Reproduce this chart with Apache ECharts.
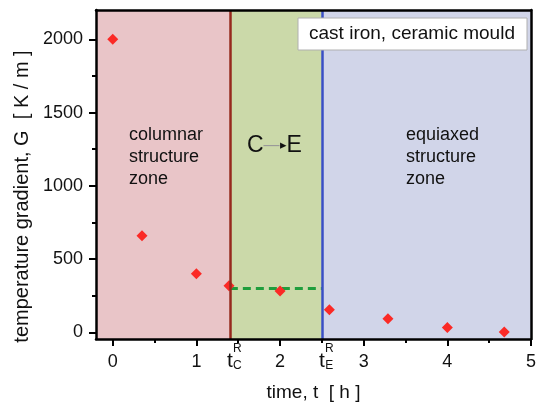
<!DOCTYPE html>
<html>
<head>
<meta charset="utf-8">
<script src="https://cdn.jsdelivr.net/npm/echarts@6/dist/echarts.min.js"></script>
<style>
  html, body { margin: 0; padding: 0; background: #fff; }
  #chart { width: 539px; height: 402px; }
</style>
</head>
<body>
<div id="chart"></div>
<script>
// measured points
const timeH = [0, 0.35, 1.0, 1.39, 2.0, 2.59, 3.29, 4.0, 4.68];
const gradient = [2000, 660, 400, 318, 282, 155, 93, 34, 3];

// transition times (t_C^R, t_E^R) and plateau level
const tCR = 1.4;
const tER = 2.5;
const plateau = 300;

const xMajor = [0, 1, 2, 3, 4, 5];
const xMinor = [0.5, 1.5, 2.5, 3.5, 4.5];
const yMajor = [0, 500, 1000, 1500, 2000];
const yMinor = [250, 750, 1250, 1750];

const zoneColors = ["#e9c5c8", "#cbd9a9", "#d1d5e9"];

const font = "Liberation Sans, Arial, sans-serif";
const chart = echarts.init(document.getElementById("chart"));

const hiddenAxis = {
  axisLine: { show: false, onZero: false },
  axisTick: { show: false },
  axisLabel: { show: false },
  splitLine: { show: false },
};

const option = {
  animation: false,
  textStyle: { fontFamily: font },
  grid: { left: 96, right: 8, top: 10, bottom: 63, containLabel: false, outerBoundsMode: "none" },
  xAxis: [
    {
      type: "value",
      position: "bottom",
      min: -0.2,
      max: 5,
      name: "time, t  [ h ]",
      nameLocation: "middle",
      nameGap: 44,
      nameTextStyle: { fontSize: 19, color: "#111" },
      axisLine: { onZero: false, lineStyle: { color: "#000", width: 2.5 } },
      axisTick: { inside: false, length: 7, lineStyle: { color: "#000", width: 2 }, customValues: xMajor },
      axisLabel: { fontSize: 18, color: "#111", margin: 14, customValues: xMajor, formatter: (v) => String(v) },
      splitLine: { show: false },
      z: 10,
    },
    {
      type: "value",
      position: "bottom",
      min: -0.2,
      max: 5,
      ...hiddenAxis,
      axisTick: { show: true, length: 4, lineStyle: { color: "#000", width: 2 }, customValues: xMinor },
      z: 10,
    },
    {
      type: "value",
      position: "bottom",
      min: -0.2,
      max: 5,
      ...hiddenAxis,
      axisLabel: {
        show: true,
        margin: 8,
        customValues: [tCR, tER],
        formatter: (v) => "{pad|}{sp|}{sup|R}\n{pad|}{t|t}{sub|" + (v < 2 ? "C" : "E") + "}",
        rich: {
          pad: { width: 9, lineHeight: 4 },
          sp: { width: 6, lineHeight: 4 },
          sup: { fontSize: 12, width: 9, lineHeight: 4, color: "#111" },
          t: { fontSize: 21, width: 6, lineHeight: 21, verticalAlign: "top", color: "#111" },
          sub: { fontSize: 12, width: 9, lineHeight: 12, verticalAlign: "bottom", color: "#111" },
        },
      },
    },
    {
      type: "value",
      position: "top",
      min: -0.2,
      max: 5,
      ...hiddenAxis,
      axisLine: { show: true, onZero: false, lineStyle: { color: "#000", width: 2.5 } },
      z: 10,
    },
  ],
  yAxis: [
    {
      type: "value",
      position: "left",
      min: -45,
      max: 2200,
      name: "temperature gradient, G  [ K / m ]",
      nameLocation: "middle",
      nameGap: 63,
      nameTextStyle: { fontSize: 20, color: "#111", padding: [0, 0, 0, -44] },
      axisLine: { onZero: false, lineStyle: { color: "#000", width: 2.5 } },
      axisTick: { inside: false, length: 7, lineStyle: { color: "#000", width: 2 }, customValues: yMajor },
      axisLabel: { fontSize: 18, color: "#111", margin: 13, customValues: yMajor, formatter: (v) => String(v) },
      splitLine: { show: false },
      z: 10,
    },
    {
      type: "value",
      position: "left",
      min: -45,
      max: 2200,
      ...hiddenAxis,
      axisTick: { show: true, length: 4, lineStyle: { color: "#000", width: 2 }, customValues: yMinor },
      z: 10,
    },
    {
      type: "value",
      position: "right",
      min: -45,
      max: 2200,
      ...hiddenAxis,
      axisLine: { show: true, onZero: false, lineStyle: { color: "#000", width: 2.5 } },
      z: 10,
    },
  ],
  series: [
    {
      type: "scatter",
      data: [],
      markArea: {
        silent: true,
        data: [
          [{ xAxis: -0.2, itemStyle: { color: zoneColors[0] } }, { xAxis: tCR }],
          [{ xAxis: tCR, itemStyle: { color: zoneColors[1] } }, { xAxis: tER }],
          [{ xAxis: tER, itemStyle: { color: zoneColors[2] } }, { xAxis: 5 }],
        ],
      },
      markLine: {
        silent: true,
        symbol: "none",
        label: { show: false },
        data: [
          { xAxis: tCR, lineStyle: { color: "#96281e", width: 2.5, type: "solid" } },
          { xAxis: tER, lineStyle: { color: "#3a4fc4", width: 2.5, type: "solid" } },
        ],
      },
    },
    {
      type: "line",
      data: [[tCR, plateau], [tER, plateau]],
      symbol: "none",
      lineStyle: { color: "#1f9e3c", width: 3, type: [8, 5] },
      z: 3,
    },
    {
      type: "scatter",
      data: timeH.map((t, i) => [t, gradient[i]]),
      symbol: "diamond",
      symbolSize: 11,
      itemStyle: { color: "#fb2a26", opacity: 1 },
      z: 4,
    },
  ],
  graphic: [
    {
      type: "rect",
      z: 20,
      shape: { x: 298, y: 18, width: 229, height: 32 },
      style: { fill: "#fff", stroke: "#b0b0b0", lineWidth: 1 },
    },
    {
      type: "text",
      z: 21,
      x: 412,
      y: 34,
      style: { text: "cast iron, ceramic mould", font: "19px " + font, fill: "#111", align: "center", verticalAlign: "middle" },
    },
    {
      type: "text",
      left: 129,
      top: 124,
      z: 20,
      style: { text: "columnar\nstructure\nzone", font: "18px " + font, lineHeight: 22, fill: "#111" },
    },
    {
      type: "text",
      left: 406,
      top: 124,
      z: 20,
      style: { text: "equiaxed\nstructure\nzone", font: "18px " + font, lineHeight: 22, fill: "#111" },
    },
    {
      type: "text",
      left: 247,
      top: 134,
      z: 20,
      style: {
        text: "{c|C}{l|—}{a|▸}{c|E}",
        rich: {
          c: { font: "23px " + font, fill: "#111" },
          l: { font: "16px " + font, fill: "#999" },
          a: { font: "13px " + font, fill: "#111" },
        },
      },
    },
  ],
};

chart.setOption(option);
</script>
</body>
</html>
